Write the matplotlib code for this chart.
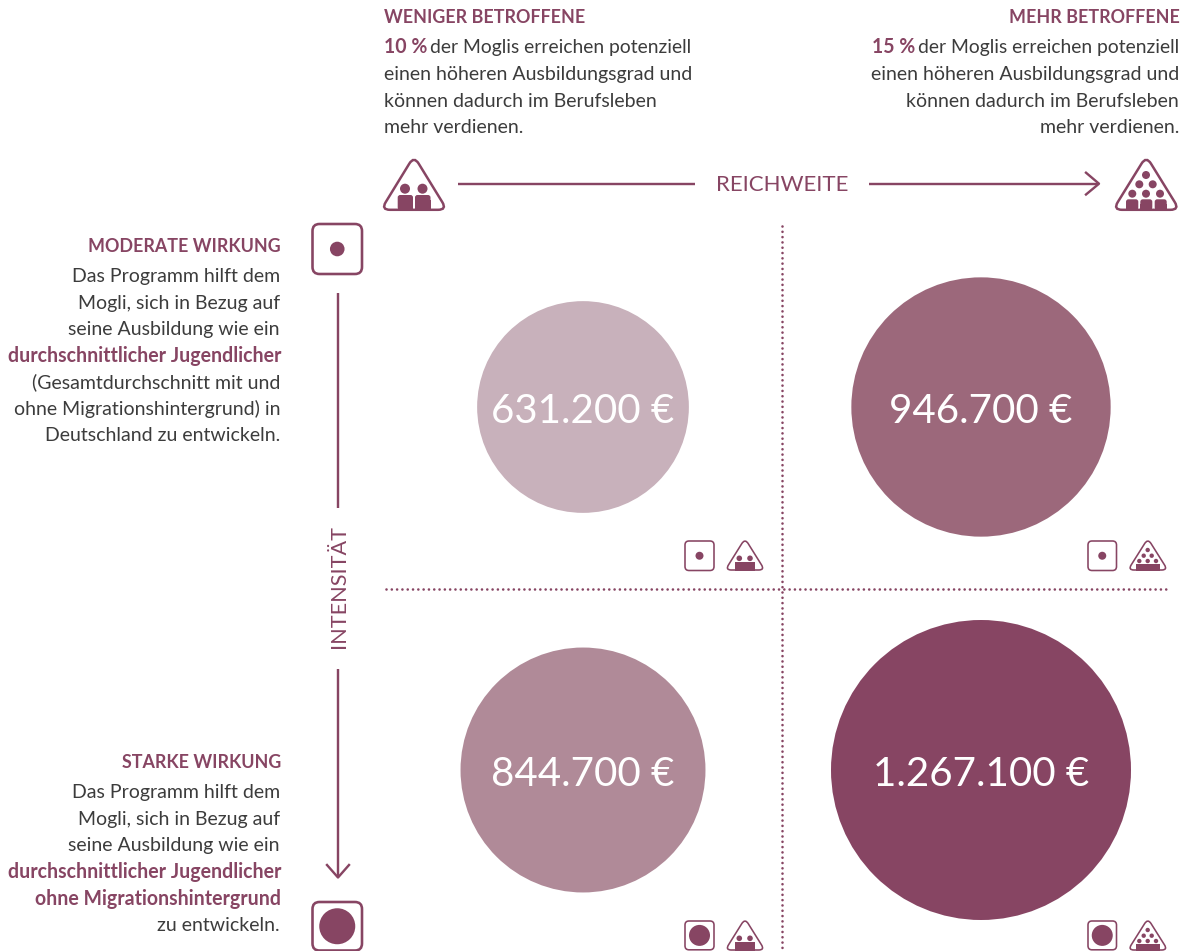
#!/usr/bin/env python3
import numpy as np
import matplotlib
matplotlib.use("Agg")
import matplotlib.pyplot as plt
from matplotlib.patches import Circle, FancyBboxPatch, PathPatch, Rectangle
from matplotlib.path import Path

# Werte aus dem Bild
labels = ["631.200 €", "946.700 €", "844.700 €", "1.267.100 €"]
werte = [631200, 946700, 844700, 1267100]
kreis_farben = ["#c8b1bb", "#9c687b", "#b08a98", "#874563"]
kreis_x = [583, 981, 583, 981]
kreis_y = [407, 407, 770, 770]

LILA = "#874563"
GRAU = "#3c3c3c"
FONT = "Lato"

text_oben_links = ["einen höheren Ausbildungsgrad und", "können dadurch im Berufsleben", "mehr verdienen."]
text_moderat = ["Das Programm hilft dem", "Mogli, sich in Bezug auf", "seine Ausbildung wie ein"]
text_moderat2 = ["(Gesamtdurchschnitt mit und", "ohne Migrationshintergrund) in", "Deutschland zu entwickeln."]
text_stark = ["Das Programm hilft dem", "Mogli, sich in Bezug auf", "seine Ausbildung wie ein"]

fig = plt.figure(figsize=(11.82, 9.51), dpi=100)
ax = fig.add_axes([0, 0, 1, 1])
ax.set_xlim(0, 1182)
ax.set_ylim(951, 0)
ax.axis("off")
rend = fig.canvas.get_renderer()

PX = 72 / 100  # Pixel nach Punkt


def txt(x, y, s, ha="left", bold=False, col=GRAU, size=14.05):
    return ax.text(x, y, s, ha=ha, va="baseline", family=FONT, color=col, fontsize=size,
                   fontweight="bold" if bold else "normal")


def kopf(x, y, s, ha="left"):
    return txt(x, y, s, ha=ha, bold=True, col=LILA, size=12.85)


def dreieck(x0, x1, y0, y1, r, lw):
    # Dreieck mit runden Ecken
    p = np.array([[(x0 + x1) / 2, y0], [x1, y1], [x0, y1]], dtype=float)
    verts, codes = [], []
    for i in range(3):
        a, b, c = p[i - 1], p[i], p[(i + 1) % 3]
        e1 = b + (a - b) / np.linalg.norm(a - b) * r
        e2 = b + (c - b) / np.linalg.norm(c - b) * r
        verts += [e1, b, e2]
        codes += [Path.MOVETO if i == 0 else Path.LINETO, Path.CURVE3, Path.CURVE3]
    verts.append(verts[0])
    codes.append(Path.CLOSEPOLY)
    ax.add_patch(PathPatch(Path(verts, codes), fc="white", ec=LILA, lw=lw * PX))


def wuerfel(x0, x1, y0, y1, r, lw, dot_r):
    ax.add_patch(FancyBboxPatch((x0 + r, y0 + r), x1 - x0 - 2 * r, y1 - y0 - 2 * r,
                                boxstyle="round,pad=%f,rounding_size=%f" % (r, r),
                                fc="white", ec=LILA, lw=lw * PX, clip_on=False))
    ax.add_patch(Circle(((x0 + x1) / 2, (y0 + y1) / 2), dot_r, fc=LILA, ec="none"))


def dot(x, y, r):
    ax.add_patch(Circle((x, y), r, fc=LILA, ec="none"))


def rect(x0, x1, y0, y1):
    ax.add_patch(Rectangle((x0, y0), x1 - x0, y1 - y0, fc=LILA, ec="none"))


def koerper(x0, x1, y0, y1):
    # Oberkoerper, oben abgerundet
    r = 2.5
    ax.add_patch(FancyBboxPatch((x0 + r, y0 + r), x1 - x0 - 2 * r, y1 - y0 - 2 * r,
                                boxstyle="round,pad=%f,rounding_size=%f" % (r, r), fc=LILA, ec="none"))
    rect(x0, x1, y0 + 5, y1)


def klein_wenig(dy):
    dreieck(725.3, 764.7, 538.5 + dy, 570 + dy, 6, 1.6)
    dot(739.3, 558.3 + dy, 2.8)
    dot(750, 558.3 + dy, 2.8)
    rect(735, 755, 562 + dy, 570.7 + dy)


def klein_mehr(dy):
    dreieck(1128, 1167.7, 538.5 + dy, 570 + dy, 6, 1.6)
    for hx, hy in [(1147.7, 550), (1143.7, 555.7), (1151.7, 555.7), (1139.3, 561), (1147.7, 561), (1156, 561)]:
        dot(hx, hy + dy, 2.2)
    rect(1136, 1160, 564 + dy, 570.7 + dy)


# gepunktete Achsen
ax.plot([386, 1167], [588.5, 588.5], color=LILA, lw=1.9, ls=(0, (0.01, 2)), dash_capstyle="round")
ax.plot([782, 782], [226, 951], color=LILA, lw=1.9, ls=(0, (0.01, 2)), dash_capstyle="round")

# Kreise, Flaeche proportional zum Wert
for i in range(4):
    d = 300 * np.sqrt(werte[i] / max(werte))
    ax.add_patch(Circle((kreis_x[i], kreis_y[i]), d / 2, fc=kreis_farben[i], ec="none"))
    ax.text(kreis_x[i], kreis_y[i] + 16, labels[i], ha="center", va="baseline", color="white",
            family=FONT, fontsize=29)

# Text oben links
kopf(384, 23, "WENIGER BETROFFENE")
t = txt(384, 53, "10 %", bold=True, col=LILA)
bb = t.get_window_extent(rend)
txt(bb.x1 + 3, 53, "der Moglis erreichen potenziell", size=13.9)
for i, s in enumerate(text_oben_links):
    txt(384, [80, 106.7, 132.7][i], s)

# Text oben rechts
kopf(1180, 23, "MEHR BETROFFENE", ha="right")
t = txt(1179, 53, "der Moglis erreichen potenziell", ha="right", size=13.9)
bb = t.get_window_extent(rend)
txt(bb.x0 - 3, 53, "15 %", ha="right", bold=True, col=LILA)
for i, s in enumerate(text_oben_links):
    txt(1179, [80, 106.7, 132.7][i], s, ha="right")

# Text links, moderate Wirkung
kopf(281, 251.7, "MODERATE WIRKUNG", ha="right")
for i, s in enumerate(text_moderat):
    txt(280, [281.7, 308.5, 335][i], s, ha="right")
txt(281, 361.7, "durchschnittlicher Jugendlicher", ha="right", bold=True, col=LILA)
for i, s in enumerate(text_moderat2):
    txt(280, [388, 415, 441][i], s, ha="right")

# Text links, starke Wirkung
kopf(281, 767.7, "STARKE WIRKUNG", ha="right")
for i, s in enumerate(text_stark):
    txt(280, [798, 825, 851][i], s, ha="right")
txt(281, 878, "durchschnittlicher Jugendlicher", ha="right", bold=True, col=LILA)
txt(281, 905, "ohne Migrationshintergrund", ha="right", bold=True, col=LILA)
txt(280, 931, "zu entwickeln.", ha="right")

# Achse Reichweite
lw_achse = 2.4 * PX
ax.plot([458, 695], [183.7, 183.7], color=LILA, lw=lw_achse, solid_capstyle="butt")
ax.plot([869, 1098], [183.7, 183.7], color=LILA, lw=lw_achse, solid_capstyle="butt")
ax.plot([1086, 1099, 1086], [172.7, 183.7, 194.5], color=LILA, lw=lw_achse)
ax.text(782.5, 191, "REICHWEITE", ha="center", va="baseline", family=FONT, color=LILA, fontsize=16)

# Achse Intensitaet
ax.plot([338, 338], [293, 508], color=LILA, lw=lw_achse, solid_capstyle="butt")
ax.plot([338, 338], [669, 877], color=LILA, lw=lw_achse, solid_capstyle="butt")
ax.plot([327, 338, 349], [865, 877.5, 865], color=LILA, lw=lw_achse)
ax.text(339, 586.5, "INTENSITÄT", ha="center", va="center", rotation=90, family=FONT, color=LILA, fontsize=15.6)

# grosse Symbole
dreieck(381, 447, 156, 209.8, 9, 2.5)
dot(405, 188.7, 5)
dot(422.5, 188.7, 5)
koerper(397.7, 413, 195, 209.8)
koerper(415, 430.5, 195, 209.8)

dreieck(1113, 1179.5, 156, 209.8, 9, 2.5)
for hx, hy in [(1146, 175), (1139.3, 184.3), (1152.7, 184.3), (1132.3, 193.7), (1146, 193.7), (1160, 193.7)]:
    dot(hx, hy, 4)
koerper(1126, 1138.3, 199.3, 209.8)
koerper(1140.3, 1152.3, 199.3, 209.8)
koerper(1154.7, 1166.7, 199.3, 209.8)

wuerfel(312.5, 362, 224, 274, 7, 2.6, 7.3)
wuerfel(312.5, 362, 902, 950.5, 7, 2.6, 18)

# kleine Symbole
wuerfel(685, 714, 541, 570.5, 4, 1.6, 4)
wuerfel(1088, 1116.5, 541, 570.5, 4, 1.6, 4)
klein_wenig(0)
klein_mehr(0)
wuerfel(685, 714, 921, 949.8, 4, 1.6, 10.5)
wuerfel(1088, 1116.5, 921, 949.8, 4, 1.6, 10.5)
klein_wenig(380)
klein_mehr(380)

fig.savefig("out.png", dpi=100)
